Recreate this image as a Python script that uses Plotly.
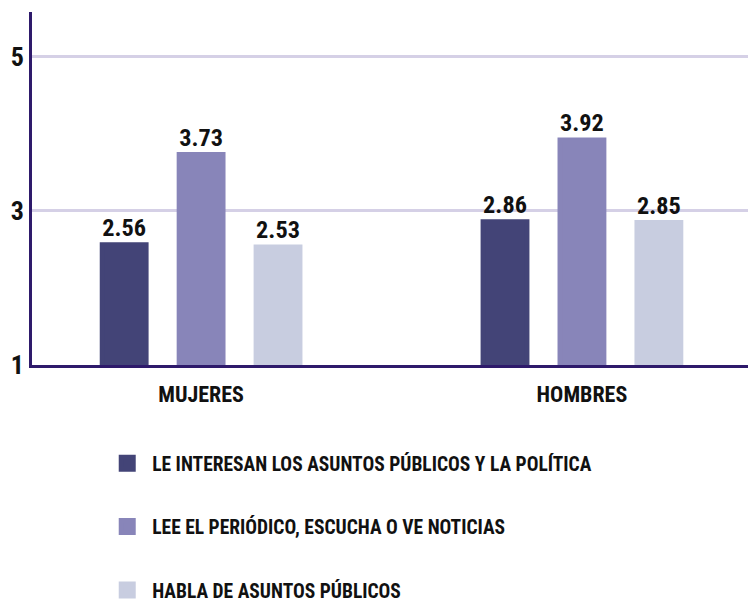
import plotly.graph_objects as go

# datos
grupos = ["MUJERES", "HOMBRES"]
series = [
    "LE INTERESAN LOS ASUNTOS PÚBLICOS Y LA POLÍTICA",
    "LEE EL PERIÓDICO, ESCUCHA O VE NOTICIAS",
    "HABLA DE ASUNTOS PÚBLICOS",
]
interes = [2.56, 2.86]
lee = [3.73, 3.92]
habla = [2.53, 2.85]
y_ticks = [1, 3, 5]

colores = ["#434477", "#8885B9", "#C8CDE0"]
FONT = "Roboto Condensed, DejaVu Sans Condensed, Roboto, sans-serif"

fig = go.Figure()
for i, (nombre, vals) in enumerate(zip(series, [interes, lee, habla])):
    fig.add_trace(go.Bar(
        x=grupos, y=vals, name=nombre,
        # borde del mismo color: agranda el cuadro de la leyenda
        marker=dict(color=colores[i], line=dict(width=5, color=colores[i])),
        text=[f"{v:.2f}" for v in vals],
        textposition="outside",
        textfont=dict(family=FONT, size=25, color="#111111", weight="bold"),
        cliponaxis=False,
        legendgroup=f"g{i}",
    ))

# la página añade 8 px de margen al cuerpo, se compensa aquí
fig.update_layout(
    width=756, height=606,
    margin=dict(l=24, r=8, t=4, b=249, autoexpand=False),
    paper_bgcolor="white", plot_bgcolor="white",
    barmode="group", bargap=0.394, bargroupgap=0.43,
    font=dict(family=FONT, color="#111111", weight="bold"),
    showlegend=True,
    legend=dict(
        x=0.097, y=-0.224, xanchor="left", yanchor="top",
        font=dict(family=FONT, size=19.5, color="#111111", weight="bold"),
        tracegroupgap=35, itemwidth=40,
    ),
)
fig.update_xaxes(
    range=[-0.444, 1.457], showgrid=False, automargin=False,
    showline=True, linecolor="#2E1A6B", linewidth=3,
    tickfont=dict(family=FONT, size=22, color="#111111", weight="bold"),
    ticks="", ticklabelstandoff=8,
)
fig.update_yaxes(
    range=[1, 5.58], tickvals=y_ticks, automargin=False,
    showgrid=True, gridcolor="#D5D0E6", gridwidth=3,
    showline=True, linecolor="#2E1A6B", linewidth=3,
    zeroline=False, ticks="",
    tickfont=dict(family=FONT, size=26, color="#111111", weight="bold"),
    ticklabelstandoff=0,
)

fig.write_html("out.html")
